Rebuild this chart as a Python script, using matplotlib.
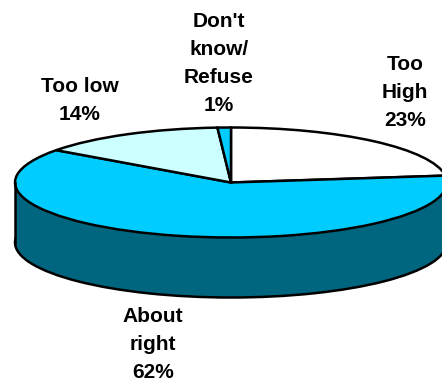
import matplotlib
matplotlib.use('Agg')
import matplotlib.pyplot as plt
from matplotlib.patches import Rectangle

plt.rcParams['font.family'] = ['Liberation Sans', 'DejaVu Sans']

labels = ["Too\nHigh\n23%", "About\nright\n62%", "Too low\n14%", "Don't\nknow/\nRefuse\n1%"]
values = [23, 62, 14, 1]
colors = ['#FFFFFF', '#00CCFF', '#CCFFFF', '#00CCFF']
side_color = '#006680'

W, H = 442, 381
fig = plt.figure(figsize=(W / 100, H / 100), dpi=100)
ax = fig.add_axes([0, 0, 1, 1])

# pie is squashed into an ellipse through the axes limits, sizes in pixels
cx, cy = 231, 182.5
rx, ry = 216, 55
depth = 60 / ry
edge = dict(edgecolor='black', linewidth=1.8)

# side wall first, then top
ax.pie([1], colors=[side_color], center=(0, -depth), wedgeprops=edge)
ax.add_patch(Rectangle((-1, -depth), 2, depth, facecolor=side_color, edgecolor='none'))
ax.plot([-1, -1], [0, -depth], color='black', lw=1.8)
ax.plot([1, 1], [0, -depth], color='black', lw=1.8)
ax.pie(values, colors=colors, startangle=90, counterclock=False, wedgeprops=edge)

ax.set_aspect('auto')
ax.set_xlim(-cx / rx, (W - cx) / rx)
ax.set_ylim(-(H - cy) / ry, cy / ry)
ax.axis('off')

# label anchors (centre of the text block), pixels from top left
label_x = [405, 153, 80, 219]
label_y = [92, 344, 100, 63.5]
for t, x, y in zip(labels, label_x, label_y):
    fig.text(x / W, 1 - y / H, t, ha='center', va='center', fontsize=15,
             fontweight='bold', color='black', linespacing=1.6)

fig.savefig('out.png', dpi=100)
